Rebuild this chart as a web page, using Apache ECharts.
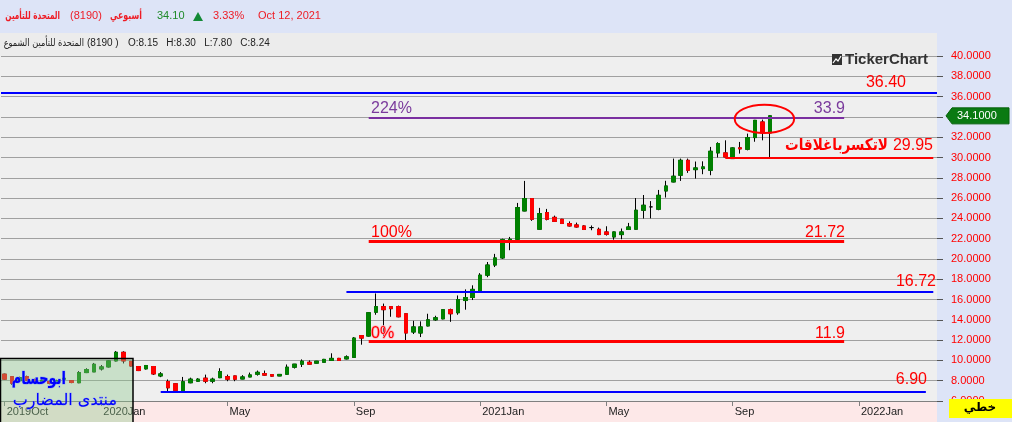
<!DOCTYPE html>
<html><head><meta charset="utf-8">
<script src="https://cdn.jsdelivr.net/npm/echarts/dist/echarts.min.js"></script>
<style>
html,body{margin:0;padding:0;width:1012px;height:422px;overflow:hidden;background:#dde4f7;}
#wrap{position:relative;width:1012px;height:422px;}
.bg{position:absolute;}
#chart{position:absolute;left:0;top:0;width:1012px;height:422px;}
</style></head><body>
<div id="wrap">
<div class="bg" style="left:0;top:33px;width:937px;height:23px;background:#ececec"></div>
<div class="bg" style="left:0;top:56px;width:937px;height:345px;background:#efefef"></div>
<div class="bg" style="left:0;top:401px;width:937px;height:21px;background:#fde8e8"></div>
<div id="chart"></div>
</div>
<script>
// ---- data (weekly candles) ----
const opens = [8.65,8.40,8.00,8.40,8.10,7.85,7.92,7.80,8.15,8.00,7.80,8.80,8.87,9.16,9.36,9.95,10.80,9.90,9.40,9.17,9.40,8.47,7.92,7.70,6.90,7.80,7.95,8.25,7.95,8.30,8.40,8.47,8.17,8.37,8.64,8.70,8.60,8.47,8.64,9.33,9.63,9.82,9.73,9.82,10.00,10.20,10.15,10.30,12.45,12.40,14.75,15.30,15.30,15.30,14.60,12.80,12.70,13.40,14.00,14.10,15.00,14.70,15.90,16.20,16.75,18.40,19.40,20.10,21.68,21.94,24.73,25.95,22.93,24.57,24.10,23.91,23.49,23.35,23.25,23.09,22.92,22.66,22.17,22.40,22.90,22.93,24.80,25.13,24.90,26.70,27.59,28.25,29.72,28.80,28.90,28.74,30.45,30.45,29.89,30.95,30.81,31.96,33.50,32.42];
const closes = [8.15,7.75,8.30,8.05,7.85,8.05,7.75,8.00,8.24,7.82,8.80,9.10,9.62,9.36,9.95,10.80,9.95,9.45,9.00,9.50,8.67,8.67,7.30,7.05,7.90,8.15,8.15,7.95,8.15,8.90,8.15,8.15,8.37,8.57,8.83,8.55,8.45,8.62,9.33,9.63,9.92,9.63,9.92,10.10,10.20,10.00,10.35,12.20,12.20,14.70,15.30,15.00,15.10,14.30,12.70,13.30,13.30,14.00,14.20,15.00,14.60,16.00,16.20,17.00,18.40,19.40,20.10,21.90,21.94,25.06,25.95,23.91,24.47,23.91,23.70,23.49,23.25,23.15,22.90,23.09,22.40,22.43,22.66,22.66,23.15,24.80,25.29,25.13,26.27,27.19,28.15,29.72,28.74,28.97,29.07,30.61,31.37,30.05,30.94,30.85,31.96,33.66,32.42,34.10];
const lows = [8.10,7.60,7.90,7.95,7.75,7.80,7.65,7.75,7.80,7.75,7.75,8.75,8.85,9.00,9.30,9.90,9.70,9.40,8.95,9.10,8.57,8.35,6.90,6.85,6.87,7.75,7.90,7.75,7.75,8.25,7.95,7.95,8.15,8.35,8.50,8.50,8.40,8.45,8.60,9.20,9.35,9.60,9.70,9.80,9.95,9.95,10.10,10.25,11.55,12.35,14.50,12.40,14.30,14.25,11.92,12.60,12.30,13.35,13.90,14.05,13.80,14.50,15.00,15.95,16.70,18.20,19.20,20.00,20.86,21.80,24.70,23.75,22.90,23.80,23.65,23.45,23.20,23.10,22.85,22.83,22.35,22.30,21.90,21.94,22.85,22.90,23.98,24.00,24.80,26.05,27.55,27.69,28.48,27.92,28.35,28.25,30.00,30.00,29.85,30.38,30.70,31.55,31.69,29.89];
const highs = [8.70,8.45,8.40,8.50,8.20,8.15,8.00,8.10,8.30,8.05,8.95,9.23,9.75,9.55,10.00,10.93,10.90,9.95,9.45,9.55,9.45,8.85,8.12,7.75,8.37,8.30,8.25,8.60,8.30,9.23,8.60,8.50,8.55,8.80,9.00,9.00,8.65,8.65,9.60,9.65,10.10,10.00,9.95,10.15,10.70,10.25,10.50,12.30,12.50,14.75,16.60,15.60,15.35,15.40,14.65,13.90,13.85,14.60,14.40,15.05,15.10,16.40,17.00,17.40,18.60,19.70,20.50,22.00,22.17,25.52,27.69,25.98,25.03,24.93,24.27,23.95,23.70,23.58,23.32,23.30,23.09,23.22,22.70,23.00,23.55,26.00,26.30,25.70,26.80,27.70,29.89,29.89,29.89,29.60,29.62,31.04,31.50,31.69,31.00,31.53,32.35,33.70,33.73,34.15];
const totalSlots = 126;   // weeks on the axis incl. empty future weeks
const tickIndex = [0,13,30,47,64,81,98,115];
const tickLabels = ['2019Oct','2020Jan','May','Sep','2021Jan','May','Sep','2022Jan'];
const levelValues = [36.40, 33.9, 29.95, 21.72, 16.72, 11.9, 6.90];
const levelStart  = [null, 49, 97, 49, 46, 49, 21];
const levelEnd    = [null, 113, 125, 113, 125, 113, 124];
const lastPrice = 34.10;

// ---- styles ----
const levelColors = ['#0000ff','#7a2fa0','#ff0000','#ff0000','#0000ff','#ff0000','#0000ff'];
const levelWidths = [2,2,2,3,2,3,2];
const UP = '#008000', DOWN = '#ff0000';
const LAT = 'Liberation Sans, Arial, sans-serif';
const AR = 'DejaVu Sans, sans-serif';

const categories = Array.from({length: totalSlots}, (_, i) => String(i));
const ohlc = opens.map((o, i) => [o, closes[i], lows[i], highs[i]]);
const bodies = opens.map((o, i) => Math.abs(o - closes[i]) < 0.005 ? '-' :
  [o, closes[i], Math.min(o, closes[i]), Math.max(o, closes[i])]);

const mlData = levelValues.map((v, k) => {
  const ls = {color: levelColors[k], width: levelWidths[k], type: 'solid'};
  if (levelStart[k] === null) return {yAxis: v, lineStyle: ls};
  return [{coord: [levelStart[k], v], lineStyle: ls}, {coord: [levelEnd[k], v]}];
});

const chart = echarts.init(document.getElementById('chart'), null, {renderer: 'canvas'});
chart.setOption({
  animation: false,
  backgroundColor: 'transparent',
  grid: {left: 1, right: 75, top: 56, bottom: 21, containLabel: false, outerBoundsMode: 'none'},
  xAxis: {
    type: 'category', data: categories, boundaryGap: true,
    axisLine: {show: true, lineStyle: {color: '#808080', width: 1}},
    axisTick: {show: true, alignWithLabel: true, length: 5, interval: (i) => tickIndex.includes(i), lineStyle: {color: '#808080'}},
    axisLabel: {show: true, interval: (i) => tickIndex.includes(i), formatter: (v, i) => tickLabels[tickIndex.indexOf(i)] || '',
      align: 'left', padding: [0, 0, 0, 2], margin: 5, color: '#222', fontSize: 11, fontFamily: LAT},
    splitLine: {show: false}
  },
  yAxis: {
    type: 'value', position: 'right', min: 6, max: 40, interval: 2, scale: false,
    axisLine: {show: false},
    axisTick: {show: true, length: 6, lineStyle: {color: '#555'}},
    axisLabel: {margin: 14, color: '#ff0000', fontSize: 11, fontFamily: LAT, formatter: (v) => v.toFixed(4)},
    splitLine: {show: true, lineStyle: {color: '#a0a0a0', width: 1}}
  },
  series: [
    {type: 'candlestick', data: ohlc, barWidth: 4, z: 2,
     itemStyle: {color: UP, color0: DOWN, borderColor: '#000', borderColor0: '#000', borderWidth: 1},
     markLine: {symbol: 'none', silent: true, animation: false, label: {show: false}, data: mlData, z: 5}},
    {type: 'candlestick', data: bodies, barWidth: 4, z: 3,
     itemStyle: {color: UP, color0: DOWN, borderColor: UP, borderColor0: DOWN, borderWidth: 1}}
  ]
});

function yPx(v) { return chart.convertToPixel({yAxisIndex: 0}, v); }
function xPx(i) { return chart.convertToPixel({xAxisIndex: 0}, i); }

const g = [];
function txt(x, y, text, fill, font, align, va, extra, sx) {
  const el = {type: 'text', x: x, y: y, z: 100, silent: true,
    style: Object.assign({text: text, fill: fill, font: font, align: align || 'left', verticalAlign: va || 'middle'}, extra || {})};
  if (sx) el.scaleX = sx;
  g.push(el);
}
// header
txt(60, 16, 'المتحدة للتأمين', '#ee1c25', 'bold 11px ' + AR, 'right', 'middle', null, 0.66);
txt(70, 16, '(8190)', '#ee1c25', '11px ' + LAT);
txt(142, 16, 'أسبوعي', '#ee1c25', 'bold 11px ' + AR, 'right', 'middle', null, 0.72);
txt(157, 16, '34.10', '#1f8a2a', '11px ' + LAT);
g.push({type: 'polygon', z: 100, silent: true, shape: {points: [[193, 21], [203, 21], [198, 12]]}, style: {fill: '#138a36'}});
txt(213, 16, '3.33%', '#ee1c25', '11px ' + LAT);
txt(258, 16, 'Oct 12, 2021', '#ee1c25', '11px ' + LAT);
// second row
txt(84, 43, 'المتحدة للتأمين الشموع', '#222', '10px ' + AR, 'right', 'middle', null, 0.82);
txt(87, 43, '(8190 )', '#222', '10px ' + LAT);
txt(128, 43, 'O:8.15   H:8.30   L:7.80   C:8.24', '#222', '10px ' + LAT);
// logo
g.push({type: 'rect', z: 100, silent: true, shape: {x: 832, y: 54, width: 10, height: 11}, style: {fill: '#333'}});
g.push({type: 'polyline', z: 101, silent: true, shape: {points: [[833, 63], [836, 59], [838, 61], [841, 56]]}, style: {stroke: '#fff', lineWidth: 1.2}});
txt(845, 60, 'TickerChart', '#333', 'bold 15px ' + LAT);

// level labels
const Y = levelValues.map(yPx);
txt(906, Y[0] - 10, '36.40', '#ff0000', '16px ' + LAT, 'right');
txt(371, Y[1] - 9, '224%', '#7a3a9c', '16px ' + LAT);
txt(845, Y[1] - 9, '33.9', '#7a3a9c', '16px ' + LAT, 'right');
txt(888, Y[2] - 12, 'لاتكسرباغلاقات', '#ff0000', 'bold 16px ' + AR, 'right', 'middle', null, 0.85);
txt(933, Y[2] - 12, '29.95', '#ff0000', '16px ' + LAT, 'right');
txt(371, Y[3] - 9, '100%', '#ff0000', '16px ' + LAT);
txt(845, Y[3] - 9, '21.72', '#ff0000', '16px ' + LAT, 'right');
txt(936, Y[4] - 11, '16.72', '#ff0000', '16px ' + LAT, 'right');
txt(371, Y[5] - 8, '0%', '#ff0000', '16px ' + LAT, 'left', 'middle', {stroke: '#ffb4c0', lineWidth: 1.5});
txt(845, Y[5] - 8, '11.9', '#ff0000', '16px ' + LAT, 'right');
txt(927, Y[6] - 12, '6.90', '#ff0000', '16px ' + LAT, 'right');

// ellipse around the last candles
const ec = xPx(102), ecy = yPx(33.8);
const erx = (xPx(106) - xPx(102)), ery = (yPx(32.4) - yPx(33.8));
g.push({type: 'ellipse', z: 100, silent: true, shape: {cx: ec + 2, cy: ecy, rx: erx, ry: ery}, style: {fill: 'rgba(0,0,0,0)', stroke: '#ff0000', lineWidth: 2}});

// price tag
const py = yPx(lastPrice);
g.push({type: 'polygon', z: 100, silent: true, shape: {points: [[946, py], [952, py - 8], [1009, py - 8], [1009, py + 8], [952, py + 8]]}, style: {fill: '#0a7a12', stroke: '#05600a', lineWidth: 1}});
txt(957, py, '34.1000', '#fff', '11px ' + LAT);

// yellow box
g.push({type: 'rect', z: 100, silent: true, shape: {x: 949, y: 399, width: 63, height: 19}, style: {fill: '#ffff00'}});
txt(980, 408, 'خطي', '#000', 'bold 12px ' + AR, 'center');

// watermark box
g.push({type: 'rect', z: 100, silent: true, shape: {x: 0.5, y: 358.5, width: 132.5, height: 66}, style: {fill: 'rgba(140,200,140,0.38)', stroke: '#000', lineWidth: 1.5}});
txt(66, 380, 'ابوحسام', '#0000ff', 'bold 17px ' + AR, 'right', 'middle', {stroke: 'rgba(120,140,255,0.6)', lineWidth: 1}, 0.76);
txt(117, 401, 'منتدى المضارب', '#0000ff', '16px ' + AR, 'right', 'middle', {stroke: 'rgba(120,140,255,0.5)', lineWidth: 0.8});

chart.setOption({graphic: {elements: g}});
</script>
</body></html>
